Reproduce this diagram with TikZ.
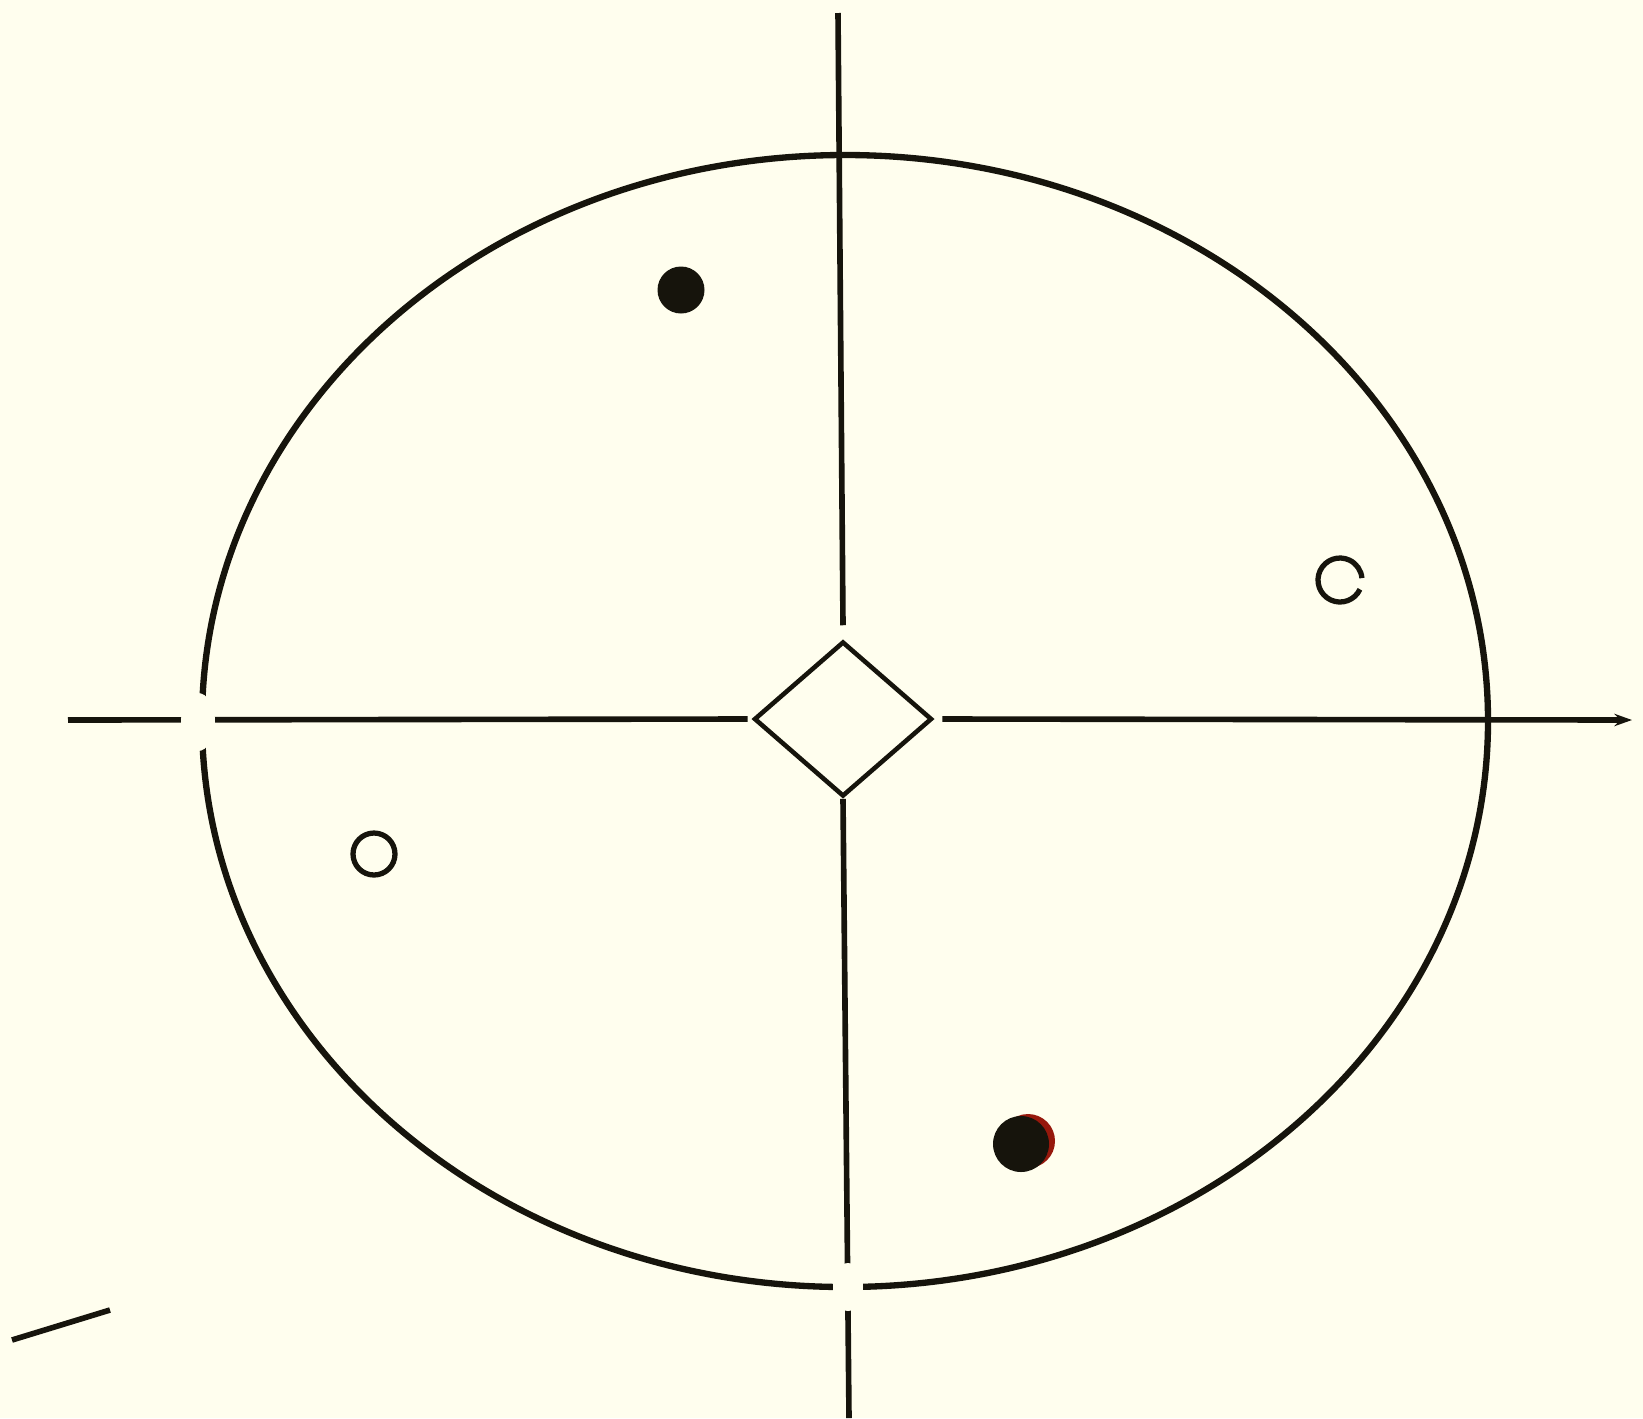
\documentclass[tikz,border=0pt]{standalone}
\usetikzlibrary{shapes.geometric,arrows.meta}
\definecolor{paper}{RGB}{255,254,238}
\definecolor{ink}{RGB}{22,20,12}
\definecolor{rust}{RGB}{150,24,12}
\begin{document}
\begin{tikzpicture}[
        x=0.02cm, y=-0.02cm,
        >={Stealth[length=10pt,width=7pt]},
        % Stile
        axis/.style={draw=ink, line width=3.2pt},
        rim/.style={draw=ink, line width=3.6pt},
        hub/.style={draw=ink, line width=2.6pt, diamond, inner sep=0pt, minimum width=3.56cm, minimum height=3.1cm},
        hole/.style={draw=ink, line width=3pt, circle, inner sep=0pt, minimum size=0.84cm},
        spot/.style={fill=ink, circle, inner sep=0pt, minimum size=0.94cm},
        gap/.style={fill=paper}
    ]

    % Hintergrund
    \fill[paper] (0,0) rectangle (1643,1418);
    \useasboundingbox (0,0) rectangle (1643,1418);

    % Achsenenden
    \coordinate (west)  at (68,720);
    \coordinate (east)  at (1632,720);
    \coordinate (north) at (838,13);
    \coordinate (south) at (849,1418);

    % Mitte und Kreis
    \node[hub] (hub) at (843,719) {};
    \draw[rim] (845,721) ellipse [x radius=643, y radius=566];

    % Achsen
    \draw[axis] (west) -- ([xshift=-0.08cm]hub.west);
    \draw[axis, ->] ([xshift=0.16cm]hub.east) -- (east);
    \draw[axis] (north) -- ([yshift=0.28cm]hub.north);
    \draw[axis] (hub.south) -- (south);

    % Luecken an den Kreuzungen
    \fill[gap] (198,722) ellipse [x radius=17, y radius=29];
    \fill[gap] (848,1287) ellipse [x radius=15, y radius=24];

    % Punkte
    \node[spot] (spot-nw) at (681,290) {};
    \fill[rust] (1028,1141) circle (27);
    \node[spot, minimum size=1.12cm] (spot-se) at (1021,1144) {};
    \node[hole] (hole-sw) at (374,854) {};
    \draw[ink, line width=3pt] (1340,580) ++(25:22) arc[start angle=25, end angle=355, radius=22];

    % Strich unten links
    \coordinate (tick-a) at (12,1340);
    \coordinate (tick-b) at (110,1310);
    \draw[axis] (tick-a) -- (tick-b);

\end{tikzpicture}
\end{document}
